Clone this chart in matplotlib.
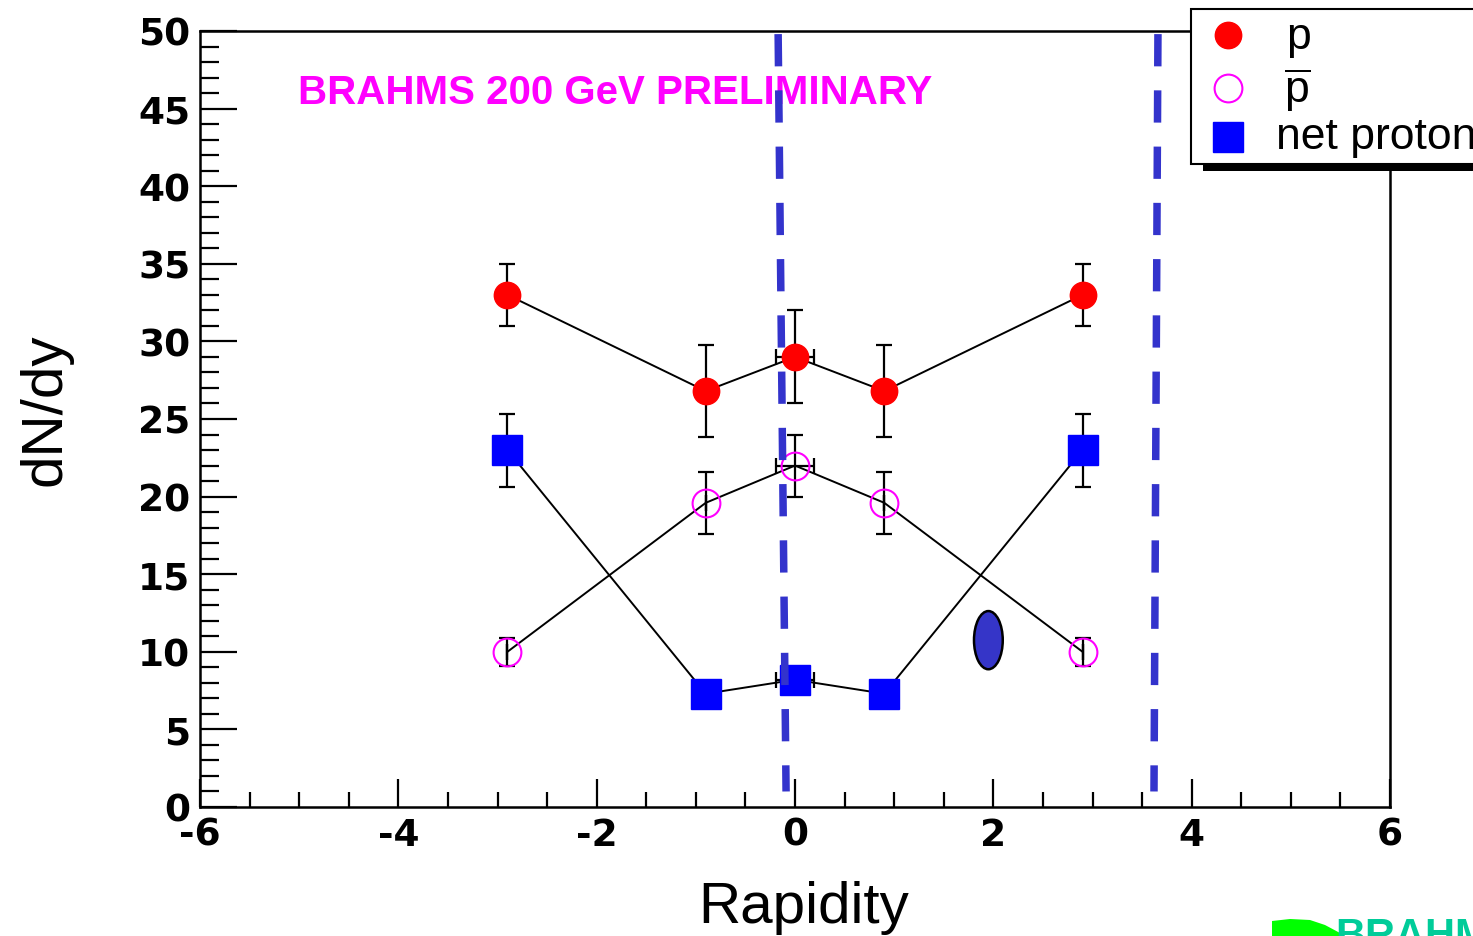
import matplotlib
matplotlib.use('Agg')
import matplotlib.pyplot as plt
from matplotlib.patches import Ellipse, Rectangle, Polygon
from matplotlib.lines import Line2D

plt.rcParams['font.family'] = ['Liberation Sans', 'DejaVu Sans']
plt.rcParams['mathtext.fontset'] = 'custom'
plt.rcParams['mathtext.rm'] = 'Liberation Sans'
plt.rcParams['axes.unicode_minus'] = False

# rapidity points
y_rap = [-2.9, -0.9, 0.0, 0.9, 2.9]
y_rap_err = [0, 0, 0.19, 0, 0]

# dN/dy for protons, antiprotons and net protons
p_val = [33.0, 26.8, 29.0, 26.8, 33.0]
p_err = [2.0, 2.95, 3.0, 2.95, 2.0]
pbar_val = [10.0, 19.6, 22.0, 19.6, 10.0]
pbar_err = [0.9, 2.0, 2.0, 2.0, 0.9]
net_val = [23.0, 7.3, 8.2, 7.3, 23.0]
net_err = [2.35, 0.8, 0.8, 0.8, 2.35]

# slanted dashed markers (x at top, x at bottom, y range)
cut1_x = [-0.17, -0.09]
cut2_x = [3.66, 3.62]
cut_y = [49.8, 1.0]

# blue blob
blob_xy = (1.95, 10.75)
blob_w = 0.29
blob_h = 3.75

W, H = 1473, 937


def px(x, y):
    return (x / W, 1 - y / H)


fig = plt.figure(figsize=(14.73, 9.37), dpi=100)
l, b = px(200, 808)
r, t = px(1390, 32)
ax = fig.add_axes([l, b, r - l, t - b])

ax.set_xlim(-6, 6)
ax.set_ylim(0, 50)

ax.plot(y_rap, p_val, color='black', lw=1.4, zorder=2)
ax.plot(y_rap, pbar_val, color='black', lw=1.4, zorder=2)
ax.plot(y_rap, net_val, color='black', lw=1.4, zorder=2)

eb = dict(fmt='none', ecolor='black', elinewidth=1.6, capsize=6, capthick=1.6, zorder=3)
ax.errorbar(y_rap, p_val, yerr=p_err, xerr=y_rap_err, **eb)
ax.errorbar(y_rap, pbar_val, yerr=pbar_err, xerr=y_rap_err, **eb)
ax.errorbar(y_rap, net_val, yerr=net_err, xerr=y_rap_err, **eb)

ax.plot(y_rap, p_val, 'o', ms=19, color='#FF0000', mec='#FF0000', ls='none', zorder=4)
ax.plot(y_rap, pbar_val, 'o', ms=20, mfc='none', mec='#FF00FF', mew=1.5, ls='none', zorder=4)
ax.plot(y_rap, net_val, 's', ms=21.5, color='#0000FF', mec='#0000FF', ls='none', zorder=4)

for cx in (cut1_x, cut2_x):
    ax.plot(cx, cut_y, color='#3333CC', lw=5.4, dashes=(4.3, 3.2),
            solid_capstyle='butt', dash_capstyle='butt', zorder=5, clip_on=False)

ax.add_patch(Ellipse(blob_xy, blob_w, blob_h, facecolor='#3535C8',
                     edgecolor='black', lw=1.8, zorder=6))

# axes frame and ticks
for s in ax.spines.values():
    s.set_linewidth(1.8)
ax.set_xticks([-6, -4, -2, 0, 2, 4, 6])
ax.set_xticks([v * 0.5 for v in range(-12, 13)], minor=True)
ax.set_yticks(range(0, 51, 5))
ax.set_yticks(range(0, 51), minor=True)
ax.tick_params(which='both', direction='in', top=False, right=False, width=1.6)
ax.tick_params(axis='x', which='major', length=20, pad=7)
ax.tick_params(axis='x', which='minor', length=10.5)
ax.tick_params(axis='y', which='major', length=26.5, pad=7)
ax.tick_params(axis='y', which='minor', length=13.5)
for lab in ax.get_xticklabels() + ax.get_yticklabels():
    lab.set_fontsize(27)
    lab.set_fontweight('bold')
    lab.set_family('DejaVu Sans')

ax.set_xlabel('Rapidity', fontsize=42)
ax.xaxis.set_label_coords(0.507, -0.094)
ax.set_ylabel('dN/dy', fontsize=42)
ax.yaxis.set_label_coords(-0.107, 0.513)

ax.text(px(298, 0)[0], px(0, 93)[1], 'BRAHMS 200 GeV PRELIMINARY', transform=fig.transFigure,
        color='#FF00FF', fontsize=29, fontweight='bold', ha='left', va='center')

# legend box with shadow
x0, y0 = px(1203, 172)
x1, y1 = px(1520, 18)
fig.add_artist(Rectangle((x0, y0), x1 - x0, y1 - y0, transform=fig.transFigure,
                         facecolor='black', edgecolor='none', zorder=10))
x0, y0 = px(1191, 165)
x1, y1 = px(1510, 10)
fig.add_artist(Rectangle((x0, y0), x1 - x0, y1 - y0, transform=fig.transFigure,
                         facecolor='white', edgecolor='black', lw=1.5, zorder=11))

fig.add_artist(Line2D([px(1228, 0)[0]], [px(0, 36)[1]], transform=fig.transFigure, marker='o',
                      ms=19, color='#FF0000', ls='none', zorder=12))
fig.add_artist(Line2D([px(1228, 0)[0]], [px(0, 89)[1]], transform=fig.transFigure, marker='o',
                      ms=20, mfc='none', mec='#FF00FF', mew=1.5, ls='none', zorder=12))
fig.add_artist(Line2D([px(1228, 0)[0]], [px(0, 138)[1]], transform=fig.transFigure, marker='s',
                      ms=21.5, color='#0000FF', ls='none', zorder=12))

fig.text(px(1286, 0)[0], px(0, 37)[1], 'p', fontsize=32, ha='left', va='center', zorder=13)
fig.text(px(1284, 0)[0], px(0, 90)[1], r'$\overline{\mathrm{p}}$', fontsize=32,
         ha='left', va='center', zorder=13)
fig.text(px(1276, 0)[0], px(0, 137)[1], 'net proton', fontsize=32, ha='left', va='center',
         zorder=13)

# logo corner
fig.add_artist(Polygon([px(1272, 940), px(1272, 922), px(1290, 920), px(1310, 921),
                        px(1325, 926), px(1340, 934), px(1345, 940)],
                       closed=True, transform=fig.transFigure, facecolor='#00FF00',
                       edgecolor='none'))
fig.text(px(1335, 0)[0], px(0, 917)[1], 'BRAHMS', color='#00CC99', fontsize=30,
         fontweight='bold', ha='left', va='top')

fig.savefig('out.png', dpi=100)
